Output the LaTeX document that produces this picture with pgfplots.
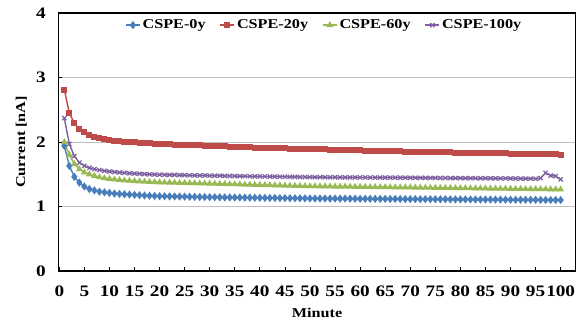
\documentclass[border=0pt]{standalone}
\usepackage{fontspec}
\setmainfont{Liberation Serif}[FakeStretch=1.2]
\usepackage{pgfplots}
\usepackage{pgfplotstable}
\pgfplotsset{compat=1.18}
\definecolor{cblue}{HTML}{4A7EBB}
\definecolor{cred}{HTML}{BE4B48}
\definecolor{cgreen}{HTML}{98B954}
\definecolor{cpurple}{HTML}{7D60A0}
\pgfplotstableread{
x a b c d
1 1.940 2.810 2.000 2.370
2 1.630 2.450 1.800 1.970
3 1.460 2.290 1.660 1.780
4 1.370 2.200 1.580 1.680
5 1.310 2.150 1.530 1.630
6 1.270 2.110 1.500 1.600
7 1.250 2.080 1.475 1.580
8 1.230 2.060 1.455 1.565
9 1.220 2.040 1.440 1.553
10 1.210 2.030 1.430 1.543
11 1.200 2.020 1.420 1.535
12 1.195 2.010 1.412 1.528
13 1.190 2.005 1.405 1.522
14 1.185 2.000 1.400 1.516
15 1.180 1.995 1.395 1.511
16 1.175 1.990 1.390 1.507
17 1.170 1.985 1.386 1.503
18 1.166 1.980 1.382 1.499
19 1.163 1.975 1.378 1.496
20 1.160 1.970 1.375 1.493
21 1.159 1.967 1.373 1.492
22 1.157 1.964 1.371 1.490
23 1.156 1.961 1.369 1.489
24 1.154 1.958 1.367 1.487
25 1.153 1.955 1.365 1.486
26 1.151 1.952 1.363 1.484
27 1.150 1.949 1.361 1.483
28 1.148 1.946 1.359 1.481
29 1.147 1.943 1.357 1.480
30 1.145 1.940 1.355 1.478
31 1.144 1.937 1.353 1.477
32 1.143 1.934 1.351 1.476
33 1.142 1.931 1.349 1.474
34 1.141 1.928 1.347 1.473
35 1.140 1.925 1.345 1.472
36 1.139 1.922 1.343 1.471
37 1.138 1.919 1.341 1.470
38 1.137 1.916 1.339 1.468
39 1.136 1.913 1.337 1.467
40 1.135 1.910 1.335 1.466
41 1.134 1.908 1.333 1.465
42 1.133 1.906 1.331 1.464
43 1.132 1.904 1.329 1.463
44 1.131 1.902 1.327 1.462
45 1.130 1.900 1.325 1.461
46 1.129 1.898 1.323 1.460
47 1.128 1.896 1.321 1.459
48 1.127 1.894 1.319 1.458
49 1.126 1.892 1.317 1.457
50 1.125 1.890 1.315 1.456
51 1.125 1.888 1.314 1.455
52 1.124 1.886 1.313 1.455
53 1.124 1.884 1.312 1.454
54 1.123 1.882 1.311 1.454
55 1.123 1.880 1.310 1.453
56 1.122 1.878 1.309 1.452
57 1.122 1.876 1.308 1.452
58 1.121 1.874 1.307 1.451
59 1.121 1.872 1.306 1.451
60 1.120 1.870 1.305 1.450
61 1.120 1.868 1.304 1.450
62 1.119 1.866 1.303 1.449
63 1.119 1.864 1.302 1.449
64 1.118 1.862 1.301 1.448
65 1.118 1.860 1.300 1.448
66 1.117 1.858 1.299 1.447
67 1.117 1.856 1.298 1.447
68 1.116 1.854 1.297 1.446
69 1.116 1.852 1.296 1.446
70 1.115 1.850 1.295 1.445
71 1.115 1.849 1.294 1.445
72 1.114 1.847 1.293 1.444
73 1.114 1.846 1.292 1.444
74 1.113 1.844 1.291 1.443
75 1.113 1.843 1.290 1.443
76 1.112 1.841 1.289 1.442
77 1.112 1.840 1.288 1.442
78 1.111 1.838 1.287 1.441
79 1.111 1.837 1.286 1.441
80 1.110 1.835 1.285 1.440
81 1.110 1.834 1.284 1.440
82 1.109 1.832 1.283 1.439
83 1.109 1.831 1.282 1.439
84 1.108 1.829 1.281 1.438
85 1.108 1.828 1.280 1.438
86 1.107 1.826 1.279 1.437
87 1.107 1.825 1.278 1.437
88 1.106 1.823 1.277 1.436
89 1.106 1.822 1.276 1.436
90 1.105 1.820 1.275 1.435
91 1.105 1.819 1.274 1.434
92 1.104 1.817 1.273 1.433
93 1.104 1.816 1.272 1.432
94 1.103 1.814 1.271 1.431
95 1.103 1.813 1.270 1.430
96 1.102 1.811 1.269 1.440
97 1.102 1.810 1.268 1.520
98 1.101 1.808 1.267 1.480
99 1.101 1.807 1.266 1.470
100 1.100 1.805 1.265 1.420
}\datatable
\begin{document}
\begin{tikzpicture}
\useasboundingbox (-58.3pt,-53pt) rectangle (525.7pt,271pt);
\begin{axis}[
  scale only axis, width=517.4pt, height=258pt,
  at={(0,0)}, anchor=south west,
  xmin=-0.2, xmax=103, ymin=0, ymax=4,
  xtick={0,5,...,100}, ytick={0,1,2,3,4},
  xtick pos=bottom, ytick pos=left,
  tick align=inside, major tick length=4pt,
  tick style={black, line width=0.8pt},
  ymajorgrids, grid style={black!25, line width=0.6pt},
  axis line style={black, line width=1.2pt},
  /pgf/number format/assume math mode=true,
  ticklabel style={font=\fontsize{16}{18}\selectfont\bfseries},
  xticklabel style={yshift=-11pt},
  yticklabel style={xshift=-9pt},
  xlabel={Minute}, ylabel={Current [nA]},
  label style={font=\fontsize{13.5}{15}\selectfont\bfseries},
  xlabel style={at={(axis description cs:0.5,0)}, anchor=center, yshift=-42pt},
  ylabel style={at={(axis description cs:-0.0715,0.5)}, anchor=center},
  legend columns=4,
  legend style={at={(axis description cs:0.514,0.953)}, anchor=center,
    draw=none, fill=none, font=\fontsize{13.5}{15}\selectfont\bfseries,
    /tikz/every even column/.append style={column sep=12pt}},
  legend image code/.code={\draw[mark repeat=2,mark phase=2] plot coordinates {(0pt,0pt) (7pt,0pt) (14pt,0pt)};},
  every axis plot/.append style={line width=1.4pt},
]
\addplot[cblue, mark=diamond*, mark size=3pt] table[x=x,y=a] {\datatable};
\addlegendentry{CSPE-0y}
\addplot[cred, mark=square*, mark size=2.3pt] table[x=x,y=b] {\datatable};
\addlegendentry{CSPE-20y}
\addplot[cgreen, mark=triangle*, mark size=2.6pt] table[x=x,y=c] {\datatable};
\addlegendentry{CSPE-60y}
\addplot[cpurple, mark=x, mark size=3pt, mark options={line width=1.2pt}] table[x=x,y=d] {\datatable};
\addlegendentry{CSPE-100y}
\end{axis}
\end{tikzpicture}
\end{document}
